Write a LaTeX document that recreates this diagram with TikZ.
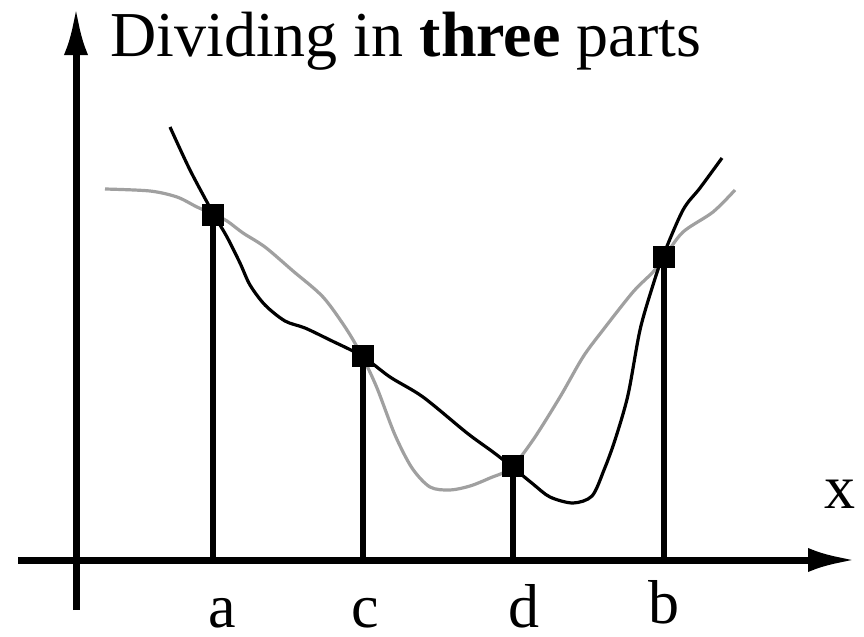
\documentclass[tikz,border=0pt]{standalone}
\usepackage{fontspec}
\setmainfont{Liberation Serif}
\usetikzlibrary{arrows.meta}
\definecolor{curvegray}{RGB}{160,160,160}
\tikzset{
  axisline/.style={line width=3.5pt, -{Latex[length=24pt,width=12pt]}},
  blackcurve/.style={line width=1.6pt, black},
  graycurve/.style={line width=1.6pt, curvegray},
  stem/.style={line width=3pt},
  divdot/.style={rectangle, fill=black, inner sep=0pt, minimum size=11pt},
  lbl/.style={anchor=base, inner sep=0pt, text depth=0pt, font=\fontsize{31}{36}\selectfont}
}
\begin{document}
\begin{tikzpicture}[x=0.5pt, y=-0.5pt]
    \useasboundingbox (0,0) rectangle (864,637);
    % Axes
    \coordinate (yb) at (76,610);
    \coordinate (yt) at (76,7);
    \coordinate (xl) at (18,560);
    \coordinate (xr) at (856,560);
    \draw[axisline] (yb) -- (yt);
    \draw[axisline] (xl) -- (xr);

    % Curves
    \draw[graycurve] plot[smooth, tension=0.5] coordinates {(105,189) (150,191) (177,197) (197,207)
        (213,214) (227,221) (243,233) (265,247) (293,271) (323,297) (347,330) (363,358)
        (377,388) (395,435) (412,468) (430,487) (450,490) (470,486) (490,478) (511,468)
        (533,440) (560,397) (583,357) (603,330) (633,292) (653,272) (665,256) (683,232)
        (713,212) (735,190)};
    \draw[blackcurve] plot[smooth, tension=0.5] coordinates {(170,127) (190,170) (213,213)
        (227,237) (240,263) (250,285) (265,305) (285,321) (305,328) (330,340) (362,356)
        (390,377) (423,397) (467,433) (493,452) (511,466) (533,484) (550,497) (573,503)
        (592,496) (604,470) (615,440) (628,395) (640,330) (653,285) (663,256) (683,210)
        (700,188) (722,158)};

    % Division points
    \node[divdot] (pa) at (213,215) {};
    \node[divdot] (pc) at (363,356) {};
    \node[divdot] (pd) at (513,466) {};
    \node[divdot] (pb) at (664,257) {};
    \draw[stem] (pa.center) -- (pa.center |- xl);
    \draw[stem] (pc.center) -- (pc.center |- xl);
    \draw[stem] (pd.center) -- (pd.center |- xl);
    \draw[stem] (pb.center) -- (pb.center |- xl);

    % Labels
    \node[lbl] (la) at (222,627) {a};
    \node[lbl] (lc) at (365,627) {c};
    \node[lbl] (ld) at (524,627) {d};
    \node[lbl] (lb) at (664,623) {b};
    \node[lbl] (lx) at (840,508) {x};
    \node[anchor=base west, inner sep=0pt, font=\fontsize{32}{36}\selectfont] (ttl) at (110,56)
        {Dividing in \textbf{three} parts};
\end{tikzpicture}
\end{document}
